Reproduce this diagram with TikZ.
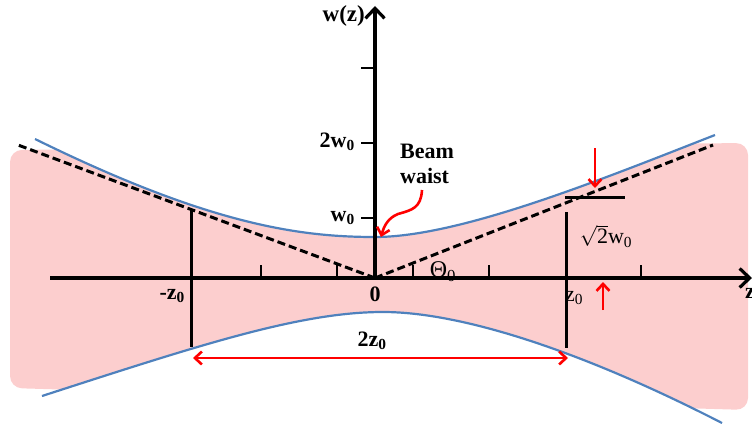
\documentclass[tikz,border=0pt]{standalone}
\usepackage{fontspec}
\setmainfont{Liberation Serif}
\usetikzlibrary{arrows.meta}
\definecolor{beampink}{RGB}{252,206,206}
\definecolor{beamblue}{RGB}{79,129,189}

\begin{document}
\begin{tikzpicture}[x=1pt, y=-1pt,
    axis/.style={line width=3.2pt, -{Straight Barb[length=10pt,width=19pt]}},  % coordinate axes
    tick/.style={line width=2.4pt},                                          % axis ticks
    asym/.style={line width=3pt, dash pattern=on 8pt off 4pt},               % far-field asymptotes
    beam/.style={line width=2.2pt, draw=beamblue},                           % beam envelope
    marker/.style={line width=3pt},                                          % z0 markers
    redarr/.style={line width=2.6pt, draw=red, -{Straight Barb[length=7pt,width=13pt]}},
    lbl/.style={font=\fontsize{22}{25}\selectfont\bfseries, inner sep=1pt},  % bold labels
    plain/.style={font=\fontsize{22}{25}\selectfont, inner sep=1pt}]         % regular labels
  \useasboundingbox (0,0) rectangle (752,428);

  % shaded beam between the two envelopes
  \begin{scope}
    \clip (0,126) -- (35,139) .. controls (210,225) and (300,237) .. (375,237)
          .. controls (460,237) and (600,180) .. (715,135) -- (752,120) -- (752,440)
          -- (722,423) .. controls (580,350) and (460,312) .. (383,312)
          .. controls (300,312) and (200,345) .. (42,396) -- (0,410) -- cycle;
    \fill[beampink, rounded corners=12pt] (10,150) -- (748,143) -- (748,410) -- (10,388) -- cycle;
  \end{scope}

  % points used by the connectors
  \coordinate (O)     at (375,278);
  \coordinate (xbeg)  at (50,278);
  \coordinate (xend)  at (752,278);
  \coordinate (ytop)  at (375,6);
  \coordinate (aslt)  at (18,145);
  \coordinate (asrt)  at (713,145);
  \coordinate (mzt)   at (191,210);
  \coordinate (mzb)   at (191,347);
  \coordinate (pzt)   at (566,212);
  \coordinate (pzb)   at (566,348);
  \coordinate (barl)  at (565,197);
  \coordinate (barr)  at (625,197);
  \coordinate (dntop) at (595,148);
  \coordinate (dnbot) at (595,188);
  \coordinate (upbot) at (603,310);
  \coordinate (uptop) at (603,282);
  \coordinate (spl)   at (193,358);
  \coordinate (spr)   at (568,358);
  \coordinate (wtail) at (422,190);
  \coordinate (whead) at (381,237);

  % labels
  \node[lbl, anchor=east] (wz)    at (366,16)  {\fontsize{23}{25}\selectfont w(z)};
  \node[lbl, anchor=east] (w2)    at (356,142) {2w\textsubscript{0}};
  \node[lbl, anchor=east] (w1)    at (356,218) {w\textsubscript{0}};
  \node[lbl]              (zero)  at (375,294) {0};
  \node[lbl, anchor=east] (mz)    at (186,296) {-z\textsubscript{0}};
  \node[plain, anchor=west] (pz)  at (564,298) {z\textsubscript{0}};
  \node[plain]            (theta) at (443,272) {\fontsize{24}{26}\selectfont Θ\textsubscript{0}};
  \node[plain]            (root)  at (606,236) {$\sqrt{\mbox{2}}$w\textsubscript{0}};
  \node[lbl, align=left]  (waist) at (427,164) {Beam\\waist};
  \node[lbl]              (span)  at (372,341) {2z\textsubscript{0}};
  \node[lbl, anchor=west] (zax)   at (744,293) {z};

  % asymptotes and envelopes
  \draw[asym] (O) -- (aslt);
  \draw[asym] (O) -- (asrt);
  \draw[beam] (35,139) .. controls (210,225) and (300,237) .. (375,237)
              .. controls (460,237) and (600,180) .. (715,135);
  \draw[beam] (42,396) .. controls (200,345) and (300,312) .. (383,312)
              .. controls (460,312) and (580,350) .. (722,423);

  % z0 markers
  \draw[marker] (mzt) -- (mzb);
  \draw[marker] (pzt) -- (pzb);
  \draw[marker] (barl) -- (barr);

  % axes and ticks
  \draw[axis] (xbeg) -- (xend);
  \draw[axis] (O) -- (ytop);
  \foreach \k in {-3,-1,1,3,7}
    \draw[tick] (375+38*\k,278) -- ++(0,-13);
  \foreach \y in {218,143,68}
    \draw[tick] (375,\y) -- ++(-14,0);

  % red arrows
  \draw[redarr] (dntop) -- (dnbot);
  \draw[redarr] (upbot) -- (uptop);
  \draw[redarr, {Straight Barb[length=7pt,width=13pt]}-{Straight Barb[length=7pt,width=13pt]}] (spl) -- (spr);
  \draw[redarr] (wtail) .. controls (421,208) and (412,210) .. (398,214)
                .. controls (388,218) and (384,226) .. (whead);
\end{tikzpicture}
\end{document}
